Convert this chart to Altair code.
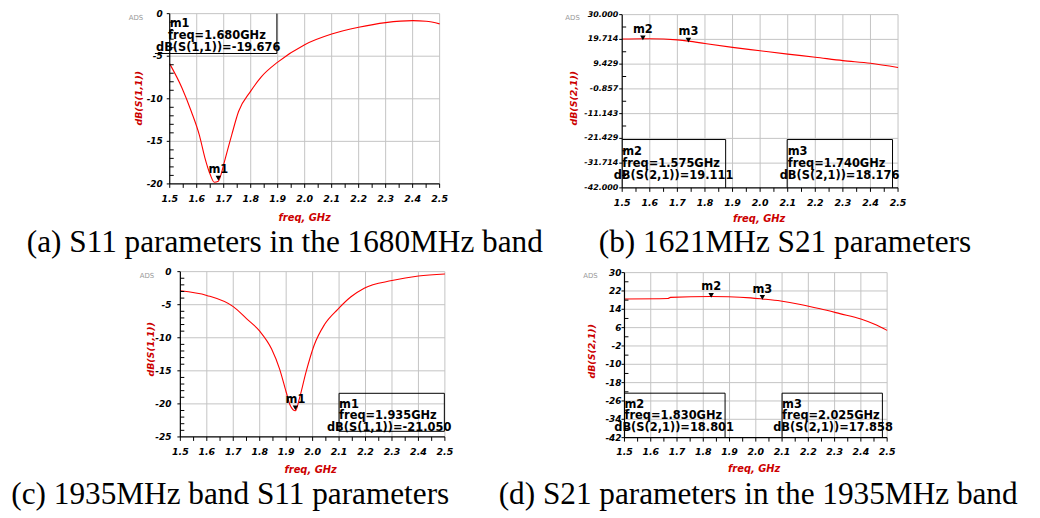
import altair as alt
import pandas as pd

SANS = "DejaVu Sans"
SERIF = "Liberation Serif"
GRID = "#c4c4c4"
LINE_RED = "#ff0000"
TITLE_RED = "#cc0000"

# ---------------- shared x axis ----------------
freq_ticks = [1.5, 1.6, 1.7, 1.8, 1.9, 2.0, 2.1, 2.2, 2.3, 2.4, 2.5]
freq_tick_labels = ["1.5", "1.6", "1.7", "1.8", "1.9", "2.0", "2.1", "2.2", "2.3", "2.4", "2.5"]
freq_minor = [1.5, 1.55, 1.6, 1.65, 1.7, 1.75, 1.8, 1.85, 1.9, 1.95, 2.0,
              2.05, 2.1, 2.15, 2.2, 2.25, 2.3, 2.35, 2.4, 2.45, 2.5]

# ---------------- (a) S11, 1680 MHz band ----------------
a_freq = [1.50, 1.545, 1.58, 1.61, 1.63, 1.65, 1.665, 1.68, 1.69, 1.70, 1.73, 1.755,
          1.80, 1.84, 1.90, 2.00, 2.10, 2.20, 2.30, 2.40, 2.45, 2.50]
a_db = [-5.9, -8.7, -11.5, -14.3, -16.9, -18.9, -19.8, -19.676, -18.9, -17.7, -14.2, -11.5,
        -9.1, -7.4, -5.7, -3.65, -2.4, -1.6, -1.05, -0.82, -0.9, -1.2]
a_yticks = [0, -5, -10, -15, -20]
a_ylabels = ["0", "-5", "-10", "-15", "-20"]
a_yminor = [-1, -2, -3, -4, -6, -7, -8, -9, -11, -12, -13, -14, -16, -17, -18, -19]
a_mk_names = ["m1"]
a_mk_freq = [1.680]
a_mk_db = [-19.676]
a_readout = ["m1", "freq=1.680GHz", "dB(S(1,1))=-19.676"]

# ---------------- (b) S21, 1621 MHz ----------------
b_freq = [1.5, 1.575, 1.6, 1.7, 1.74, 1.8, 1.9, 2.0, 2.1, 2.2, 2.3, 2.4, 2.5]
b_db = [19.9, 20.0, 20.0, 19.5, 19.0, 18.0, 16.4, 15.0, 13.6, 12.3, 10.9, 9.8, 8.0]
b_yticks = [30.0, 19.714, 9.429, -0.857, -11.143, -21.429, -31.714, -42.0]
b_ylabels = ["30.000", "19.714", "9.429", "-0.857", "-11.143", "-21.429", "-31.714", "-42.000"]
b_mk_names = ["m2", "m3"]
b_mk_freq = [1.575, 1.740]
b_mk_db = [19.111, 18.176]
b_readout_m2 = ["m2", "freq=1.575GHz", "dB(S(2,1))=19.111"]
b_readout_m3 = ["m3", "freq=1.740GHz", "dB(S(2,1))=18.176"]

# ---------------- (c) S11, 1935 MHz band ----------------
c_freq = [1.5, 1.6, 1.7, 1.75, 1.8, 1.845, 1.875, 1.9, 1.915, 1.935, 1.95, 1.975, 2.005,
          2.045, 2.095, 2.145, 2.195, 2.3, 2.4, 2.5]
c_db = [-2.9, -3.6, -5.3, -7.1, -9.0, -11.7, -14.7, -18.2, -20.2, -21.05, -19.2, -15.2, -11.2,
        -8.0, -5.7, -3.8, -2.5, -1.35, -0.65, -0.35]
c_yticks = [0, -5, -10, -15, -20, -25]
c_ylabels = ["0", "-5", "-10", "-15", "-20", "-25"]
c_yminor = [-1, -2, -3, -4, -6, -7, -8, -9, -11, -12, -13, -14, -16, -17, -18, -19,
            -21, -22, -23, -24]
c_mk_names = ["m1"]
c_mk_freq = [1.935]
c_mk_db = [-21.050]
c_readout = ["m1", "freq=1.935GHz", "dB(S(1,1))=-21.050"]

# ---------------- (d) S21, 1935 MHz band ----------------
d_freq = [1.5, 1.665, 1.675, 1.83, 1.895, 1.98, 2.025, 2.095, 2.17, 2.245, 2.32, 2.40,
          2.45, 2.5]
d_db = [18.5, 18.7, 19.2, 19.6, 19.5, 19.0, 18.5, 17.6, 16.1, 14.2, 12.1, 9.8, 7.6, 4.8]
d_yticks = [30, 22, 14, 6, -2, -10, -18, -26, -34, -42]
d_ylabels = ["30", "22", "14", "6", "-2", "-10", "-18", "-26", "-34", "-42"]
d_mk_names = ["m2", "m3"]
d_mk_freq = [1.830, 2.025]
d_mk_db = [18.801, 17.858]
d_readout_m2 = ["m2", "freq=1.830GHz", "dB(S(2,1))=18.801"]
d_readout_m3 = ["m3", "freq=2.025GHz", "dB(S(2,1))=17.858"]

captions = ["(a) S11 parameters in the 1680MHz band",
            "(b) 1621MHz S21 parameters",
            "(c) 1935MHz band S11 parameters",
            "(d) S21 parameters in the 1935MHz band"]


def midpoints(v):
    return [(v[i] + v[i + 1]) / 2 for i in range(len(v) - 1)]


def panel(P):
    xs = alt.Scale(domain=[1.5, 2.5], range=P["xr"], nice=False, zero=False)
    ymin, ymax = P["ydom"]
    ys = alt.Scale(domain=[ymin, ymax], range=P["yr"], nice=False, zero=False)

    def X(f):
        return alt.X(f"{f}:Q", scale=xs, axis=None)

    def Y(f):
        return alt.Y(f"{f}:Q", scale=ys, axis=None)

    L = []
    vgrid = pd.DataFrame({"f": freq_ticks[1:], "y0": ymin, "y1": ymax})
    L.append(alt.Chart(vgrid).mark_rule(color=GRID, strokeWidth=1)
             .encode(x=X("f"), y=Y("y0"), y2="y1"))
    hgrid = pd.DataFrame({"v": [v for v in P["yt"] if v != ymin], "x0": 1.5, "x1": 2.5})
    L.append(alt.Chart(hgrid).mark_rule(color=GRID, strokeWidth=1)
             .encode(y=Y("v"), x=X("x0"), x2="x1"))
    # curve
    cur = pd.DataFrame({"f": P["cf"], "d": P["cd"]})
    L.append(alt.Chart(cur).mark_line(color=LINE_RED, strokeWidth=1.1, interpolate=P["interp"])
             .encode(x=X("f"), y=Y("d")))
    # axis lines
    ax = pd.DataFrame({"x0": [1.5, 1.5], "x1": [1.5, 2.5], "y0": [ymin, ymin], "y1": [ymax, ymin]})
    L.append(alt.Chart(ax).mark_rule(color="black", strokeWidth=1.2)
             .encode(x=X("x0"), x2="x1", y=Y("y0"), y2="y1"))
    # ticks
    ymn = pd.DataFrame({"v": P["yminor"], "x": 1.5})
    L.append(alt.Chart(ymn).mark_rule(color="black", x2Offset=4)
             .encode(x=X("x"), x2="x", y=Y("v")))
    ymj = pd.DataFrame({"v": P["yt"], "x": 1.5})
    L.append(alt.Chart(ymj).mark_rule(color="black", xOffset=-3)
             .encode(x=X("x"), x2="x", y=Y("v")))
    xt = pd.DataFrame({"f": freq_minor, "y": ymin})
    L.append(alt.Chart(xt).mark_rule(color="black", y2Offset=4)
             .encode(x=X("f"), y=Y("y"), y2="y"))
    # tick labels
    yl = pd.DataFrame({"v": P["yt"], "lab": P["yl"], "x": 1.5})
    L.append(alt.Chart(yl).mark_text(align="right", baseline="middle", dx=P["ydx"], font=SANS,
                                     fontSize=P["yfs"], fontWeight="bold", fontStyle="italic",
                                     color="black")
             .encode(x=X("x"), y=Y("v"), text="lab:N"))
    xl = pd.DataFrame({"f": freq_ticks, "lab": freq_tick_labels, "y": ymin})
    L.append(alt.Chart(xl).mark_text(align="center", baseline="middle", dy=15, font=SANS,
                                     fontSize=9.5, fontWeight="bold", fontStyle="italic",
                                     color="black")
             .encode(x=X("f"), y=Y("y"), text="lab:N"))
    # readout boxes
    seg = pd.DataFrame(P["seg"], columns=["x0", "x1", "y0", "y1"])
    L.append(alt.Chart(seg).mark_rule(color="black", strokeWidth=1)
             .encode(x=X("x0"), x2="x1", y=Y("y0"), y2="y1"))
    rd = pd.DataFrame(P["readout"], columns=["x", "y", "t"])
    L.append(alt.Chart(rd).mark_text(align="left", baseline="middle", font=SANS, fontSize=11.5,
                                     fontWeight="bold", color="black")
             .encode(x=X("x"), y=Y("y"), text="t:N"))
    # markers
    mk = pd.DataFrame({"f": P["mf"], "d": P["md"], "n": P["mn"]})
    L.append(alt.Chart(mk).mark_point(shape="triangle-down", filled=True, color="black",
                                      size=30, yOffset=-3, opacity=1)
             .encode(x=X("f"), y=Y("d")))
    L.append(alt.Chart(mk).mark_text(align="center", baseline="middle", dy=-11, font=SANS,
                                     fontSize=11.5, fontWeight="bold", color="black")
             .encode(x=X("f"), y=Y("d"), text="n:N"))
    # axis titles and ADS tag
    yt = pd.DataFrame({"t": [P["ytitle"]]})
    L.append(alt.Chart(yt).mark_text(angle=270, align="center", baseline="middle", font=SANS,
                                     fontSize=9.5, fontWeight="bold", fontStyle="italic",
                                     color=TITLE_RED)
             .encode(x=alt.value(P["ytp"][0]), y=alt.value(P["ytp"][1]), text="t:N"))
    xtt = pd.DataFrame({"t": ["freq, GHz"]})
    L.append(alt.Chart(xtt).mark_text(align="center", baseline="middle", font=SANS,
                                      fontSize=10, fontWeight="bold", fontStyle="italic",
                                      color=TITLE_RED)
             .encode(x=alt.value(P["xtp"][0]), y=alt.value(P["xtp"][1]), text="t:N"))
    ads = pd.DataFrame({"t": ["ADS"]})
    L.append(alt.Chart(ads).mark_text(align="center", baseline="middle", font=SANS,
                                      fontSize=7, color="#9a9a9a")
             .encode(x=alt.value(P["adsp"][0]), y=alt.value(P["adsp"][1]), text="t:N"))
    return alt.layer(*L)


PA = dict(xr=[163, 435], yr=[175.3, 3.7], ydom=[-20, 0], yt=a_yticks, yl=a_ylabels,
          yminor=a_yminor, cf=a_freq, cd=a_db, ydx=-7, yfs=9, interp="monotone",
          seg=[(1.445, 1.897, -4.68, -4.68), (1.897, 1.897, 0, -4.68)],
          readout=[(1.5, -1.25, a_readout[0]), (1.494, -2.6, a_readout[1]),
                   (1.449, -4.06, a_readout[2])],
          mf=a_mk_freq, md=a_mk_db, mn=a_mk_names,
          ytitle="dB(S(1,1))", ytp=(132, 89), xtp=(299, 210), adsp=(129, 8))

PB = dict(xr=[619, 897], yr=[179.3, 4.7], ydom=[-42, 30], yt=b_yticks, yl=b_ylabels,
          yminor=midpoints(b_yticks), cf=b_freq, cd=b_db, ydx=-4, yfs=8, interp="monotone",
          seg=[(1.5, 1.875, -21.9, -21.9), (1.875, 1.875, -21.9, -42),
               (2.098, 2.48, -21.9, -21.9), (2.098, 2.098, -21.9, -42),
               (2.48, 2.48, -21.9, -42)],
          readout=[(1.5, -27.3, b_readout_m2[0]), (1.5, -32.1, b_readout_m2[1]),
                   (1.469, -36.9, b_readout_m2[2]),
                   (2.1, -27.3, b_readout_m3[0]), (2.1, -32.1, b_readout_m3[1]),
                   (2.071, -36.9, b_readout_m3[2])],
          mf=b_mk_freq, md=b_mk_db, mn=b_mk_names,
          ytitle="dB(S(2,1))", ytp=(570, 89), xtp=(757, 211), adsp=(569, 8))

PC = dict(xr=[173.7, 440.3], yr=[430.3, 263.7], ydom=[-25, 0], yt=c_yticks, yl=c_ylabels,
          yminor=c_yminor, cf=c_freq, cd=c_db, ydx=-9, yfs=9, interp="monotone",
          seg=[(2.1, 2.498, -18.4, -18.4), (2.1, 2.498, -24.15, -24.15),
               (2.1, 2.1, -18.4, -24.15), (2.498, 2.498, -18.4, -24.15)],
          readout=[(2.1, -20.1, c_readout[0]), (2.1, -21.85, c_readout[1]),
                   (2.054, -23.6, c_readout[2])],
          mf=c_mk_freq, md=c_mk_db, mn=c_mk_names,
          ytitle="dB(S(1,1))", ytp=(144, 342), xtp=(305, 464), adsp=(140, 268))

PD = dict(xr=[621.3, 886], yr=[431, 264.7], ydom=[-42, 30], yt=d_yticks, yl=d_ylabels,
          yminor=midpoints(d_yticks), cf=d_freq, cd=d_db, ydx=-3, yfs=9, interp="monotone",
          seg=[(1.5, 1.883, -22.6, -22.6), (1.883, 1.883, -22.6, -42),
               (2.1, 2.482, -22.6, -22.6), (2.1, 2.1, -22.6, -42),
               (2.482, 2.482, -22.6, -42)],
          readout=[(1.5, -27.7, d_readout_m2[0]), (1.5, -32.6, d_readout_m2[1]),
                   (1.461, -37.6, d_readout_m2[2]),
                   (2.1, -27.7, d_readout_m3[0]), (2.1, -32.6, d_readout_m3[1]),
                   (2.066, -37.6, d_readout_m3[2])],
          mf=d_mk_freq, md=d_mk_db, mn=d_mk_names,
          ytitle="dB(S(2,1))", ytp=(589, 344), xtp=(752, 463), adsp=(587, 268))

cap_pos = [(279, 235), (783, 235), (224, 489), (756, 489)]
cap_layers = []
for txt, (cx, cy) in zip(captions, cap_pos):
    cap_layers.append(
        alt.Chart(pd.DataFrame({"t": [txt]}))
        .mark_text(align="center", baseline="middle", font=SERIF, fontSize=31.5, color="black")
        .encode(x=alt.value(cx), y=alt.value(cy), text="t:N"))

chart = (
    alt.layer(panel(PA), panel(PB), panel(PC), panel(PD), *cap_layers)
    .resolve_scale(x="independent", y="independent")
    .properties(width=1032, height=510, padding=0,
                autosize=alt.AutoSizeParams(type="none"), background="white")
    .configure_view(stroke=None)
)

chart.save("out.html", embed_options={"renderer": "svg", "actions": False})
